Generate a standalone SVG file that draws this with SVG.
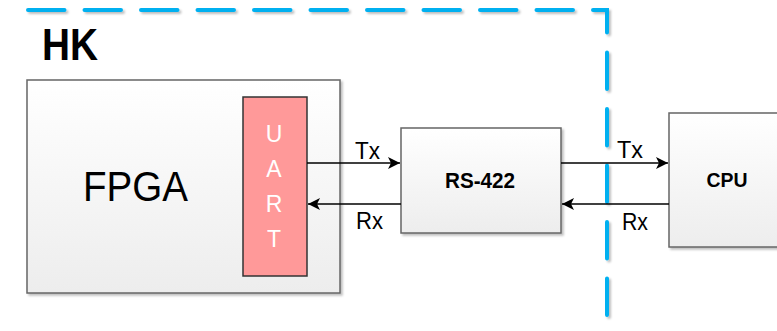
<svg xmlns="http://www.w3.org/2000/svg" width="777" height="331" viewBox="0 0 777 331">
<style>
.box{stroke:#666;stroke-width:1.5;fill:url(#g)}
.lbl{font-family:"Liberation Sans",Arial,sans-serif;fill:#000}
.wire{stroke:#000;stroke-width:1.5;fill:none}
.dash{stroke:#00B0F0;stroke-width:4;stroke-dasharray:36.5 20;fill:none;stroke-linecap:round}
</style>
<defs>
<linearGradient id="g" x1="0" y1="0" x2="0" y2="1">
<stop offset="0" stop-color="#FFFFFF"/>
<stop offset="1" stop-color="#EDEDED"/>
</linearGradient>
<marker id="ah" viewBox="0 0 12 12" refX="12" refY="6" markerWidth="12" markerHeight="12" markerUnits="userSpaceOnUse" orient="auto">
<path d="M0,0 L12,6 L0,12 L3,6 Z" fill="#000"/>
</marker>
<filter id="sh" x="-5%" y="-5%" width="115%" height="115%">
<feDropShadow dx="2" dy="2" stdDeviation="1.2" flood-color="#000" flood-opacity="0.25"/>
</filter>
</defs>
<g id="hk-boundary">
<path class="dash" d="M28,10 H607 V331" filter="url(#sh)"/>
<path class="dash" d="M10,13 V331" filter="url(#sh)"/>
<text class="lbl" x="42" y="60" font-size="44" font-weight="bold" textLength="56" lengthAdjust="spacingAndGlyphs">HK</text>
</g>
<g id="fpga">
<rect class="box" x="27" y="80" width="313" height="213" filter="url(#sh)"/>
<text class="lbl" x="83" y="201" font-size="43" textLength="105" lengthAdjust="spacingAndGlyphs">FPGA</text>
</g>
<g id="uart">
<rect x="243" y="97" width="64" height="179" fill="#FF9999" stroke="#333" stroke-width="1.5"/>
<g class="lbl" font-size="23" text-anchor="middle" style="fill:#fff">
<text x="274" y="142">U</text>
<text x="274" y="177">A</text>
<text x="274" y="212">R</text>
<text x="274" y="247">T</text>
</g>
</g>
<g id="rs422">
<rect class="box" x="401" y="128" width="160" height="105" filter="url(#sh)"/>
<text class="lbl" x="480" y="188" font-size="22" font-weight="bold" text-anchor="middle" textLength="70" lengthAdjust="spacingAndGlyphs">RS-422</text>
</g>
<g id="cpu">
<rect class="box" x="669" y="113" width="120" height="134" filter="url(#sh)"/>
<text class="lbl" x="727" y="187" font-size="21" font-weight="bold" text-anchor="middle" textLength="41" lengthAdjust="spacingAndGlyphs">CPU</text>
</g>
<g id="connectors">
<line class="wire" x1="307" y1="163" x2="400" y2="163" marker-end="url(#ah)"/>
<line class="wire" x1="401" y1="204" x2="308" y2="204" marker-end="url(#ah)"/>
<line class="wire" x1="561" y1="163" x2="668" y2="163" marker-end="url(#ah)"/>
<line class="wire" x1="669" y1="204" x2="562" y2="204" marker-end="url(#ah)"/>
<g class="lbl" font-size="23">
<text x="355" y="159" textLength="25" lengthAdjust="spacingAndGlyphs">Tx</text>
<text x="356" y="229" textLength="27" lengthAdjust="spacingAndGlyphs">Rx</text>
<text x="617" y="158" textLength="26" lengthAdjust="spacingAndGlyphs">Tx</text>
<text x="622" y="230" textLength="26" lengthAdjust="spacingAndGlyphs">Rx</text>
</g>
</g>
</svg>
